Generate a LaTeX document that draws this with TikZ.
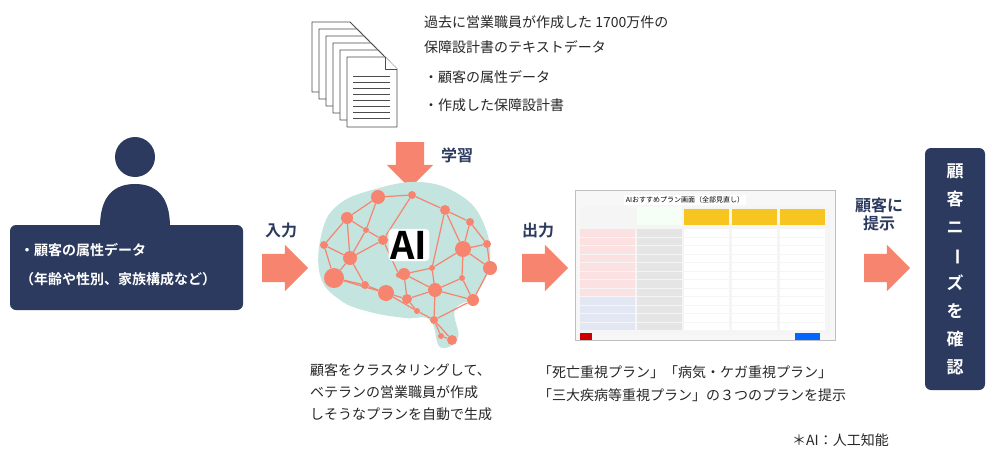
\documentclass[tikz,border=0pt]{standalone}
\usepackage{fontspec}
\setmainfont{Noto Sans CJK JP}
\newfontfamily\jpbold{Noto Sans CJK JP Bold}
\usetikzlibrary{positioning,shapes.arrows}
\definecolor{navy}{HTML}{2B3A5E}
\definecolor{salmon}{HTML}{F7846E}
\definecolor{brainbg}{HTML}{C3E4DF}
\definecolor{pinkcell}{HTML}{FBE1E1}
\definecolor{bluecell}{HTML}{E3E6F3}
\definecolor{yelcell}{HTML}{F7C520}
\newcommand\shaft{\rule{0pt}{28pt}}
\tikzset{
  fatarrow/.style={single arrow,fill=salmon,draw=none,minimum height=46pt,single arrow head extend=9pt,single arrow head indent=0pt,inner sep=0pt},
  lbl/.style={text=navy,font=\jpbold\fontsize{16}{18}\selectfont,align=center},
  txt/.style={text=black!85,font=\fontsize{14}{16}\selectfont,anchor=west,inner sep=0pt},
  page/.style={draw=black!70,fill=white,line width=0.8pt,line join=round},
  net/.style={draw=salmon,line width=1.2pt},
  knot/.style={circle,fill=salmon,inner sep=0pt},
  cell/.style={draw=white,line width=0.6pt}
}
\begin{document}
\begin{tikzpicture}[x=1pt,y=-1pt]
\useasboundingbox (0,0) rectangle (1000,460);

% documents
\foreach \i in {0,...,5} {
  \draw[page] (312+\i*7,22+\i*7) -- (350+\i*7,22+\i*7) -- (362+\i*7,34+\i*7) -- (362+\i*7,92+\i*7) -- (312+\i*7,92+\i*7) -- cycle;
}
\draw[page] (385,57) -- (385,69) -- (397,69);
\foreach \j in {0,...,7} \draw[black!70,line width=0.8pt] (353,76+\j*6) -- (390,76+\j*6);
\node[txt] (src1) at (424,22) {過去に営業職員が作成した 1700万件の};
\node[txt] (src2) at (424,47) {保障設計書のテキストデータ};
\node[txt] (src3) at (424,77) {・顧客の属性データ};
\node[txt] (src4) at (424,105) {・作成した保障設計書};

% learn arrow
\node[fatarrow,rotate=-90] (learn) at (410,158) {\shaft};
\node[lbl] (learnlbl) at (457,155) {学習};

% person
\fill[navy] (135,157) circle (20);
\fill[navy] (100,227) .. controls (100,195) and (115,184) .. (135,184) .. controls (155,184) and (170,195) .. (170,227) -- cycle;
\node[fill=navy,rounded corners=6pt,minimum width=233pt,minimum height=85pt,inner sep=0pt] (attr) at (126.5,267.5) {};
\node[text=white,font=\jpbold\fontsize{14}{16}\selectfont,anchor=west,inner sep=0pt] (attr1) at (20,250) {・顧客の属性データ};
\node[text=white,font=\jpbold\fontsize{14}{16}\selectfont,anchor=west,inner sep=0pt] (attr2) at (20,279) {（年齢や性別、家族構成など）};

% input arrow
\node[fatarrow] (inarrow) at (278,268) {\shaft};
\node[lbl] (inlbl) at (281,230) {入力};

% brain
\fill[brainbg] plot[smooth cycle,tension=0.7] coordinates {(322,232) (338,205) (372,190) (420,182) (460,195) (483,222) (490,262) (475,295) (455,310) (458,338) (440,347) (430,320) (405,318) (370,312) (340,300) (320,275)};
\foreach \n/\x/\y/\r in {a/378/197/7,b/412/195/4,c/445/210/5,d/470/222/4,e/347/218/6,f/366/230/3,g/383/240/5,h/324/245/4,i/350/258/7,j/463/249/8,k/487/244/4,l/490/268/7,m/334/278/10,n/399/275/3,o/462/278/3,p/365/285/4,q/404/274/6,r/386/293/8,s/407/299/5,t/435/290/7,u/473/300/6,v/417/311/3,w/434/320/4,x/441/336/3,y/452/340/5,z/432/268/3} {
  \node[knot,minimum size=2*\r pt] (\n) at (\x,\y) {};
}
\foreach \p/\q in {a/b,b/c,c/d,a/e,a/f,e/f,f/g,e/h,h/i,e/i,i/f,i/g,h/m,i/m,m/p,p/r,i/p,g/n,b/g,c/z,d/j,c/j,j/k,k/l,j/l,j/o,l/u,o/u,z/t,z/j,n/q,q/z,q/s,r/s,s/t,t/u,s/v,t/w,v/w,u/w,w/x,x/y,w/y,r/v,m/r,o/t,d/k,q/t}
  \draw[net] (\p) -- (\q);
\node[fill=white,rounded corners=4pt,inner sep=2pt,font=\jpbold\fontsize{38}{40}\selectfont] (ai) at (409,245) {AI};

% output arrow
\node[fatarrow] (outarrow) at (538,268) {\shaft};
\node[lbl] (outlbl) at (538,230) {出力};

% screenshot
\draw[black!25,fill=black!3,line width=1pt] (575,190) rectangle (835,340);
\node[fill=white,font=\fontsize{7}{8}\selectfont,inner sep=1.5pt] (scrtitle) at (685,200) {AIおすすめプラン画面（全部見直し）};
\fill[black!4] (580,207) rectangle (830,335);
\fill[green!4] (637,207) rectangle (682,225);
\foreach \c in {0,1,2} \fill[yelcell] (684+\c*48,209) rectangle (729+\c*48,225);
\foreach \r in {0,...,11} {
  \pgfmathsetmacro\yy{229+\r*8.5}
  \ifnum\r<8 \fill[pinkcell] (580,\yy) rectangle (635,\yy+7.5); \else \fill[bluecell] (580,\yy) rectangle (635,\yy+7.5); \fi
  \fill[black!10] (637,\yy) rectangle (682,\yy+7.5);
  \foreach \c in {0,1,2} \fill[white] (684+\c*48,\yy) rectangle (729+\c*48,\yy+7.5);
}
\fill[red!80!black] (580,333) rectangle (592,340);
\fill[blue!60!cyan] (795,333) rectangle (820,340);

% present arrow
\node[fatarrow] (prearrow) at (880,268) {\shaft};
\node[lbl] (prelbl) at (879,214) {顧客に\\提示};

% needs box
\node[fill=navy,rounded corners=6pt,minimum width=60pt,minimum height=242pt,inner sep=0pt,text=white,font=\jpbold\fontsize{17}{28}\selectfont,align=center] (needs) at (955,269) {顧\\客\\ニ\\\rotatebox[origin=c]{-90}{ー}\\ズ\\を\\確\\認};

% captions
\node[txt] (cap1) at (310,370) {顧客をクラスタリングして、};
\node[txt] (cap2) at (310,392) {ベテランの営業職員が作成};
\node[txt] (cap3) at (310,414) {しそうなプランを自動で生成};
\node[txt] (cap4) at (538,372) {「死亡重視プラン」「病気・ケガ重視プラン」};
\node[txt] (cap5) at (538,395) {「三大疾病等重視プラン」の３つのプランを提示};
\node[txt] (note) at (792,440) {＊AI：人工知能};
\end{tikzpicture}
\end{document}
